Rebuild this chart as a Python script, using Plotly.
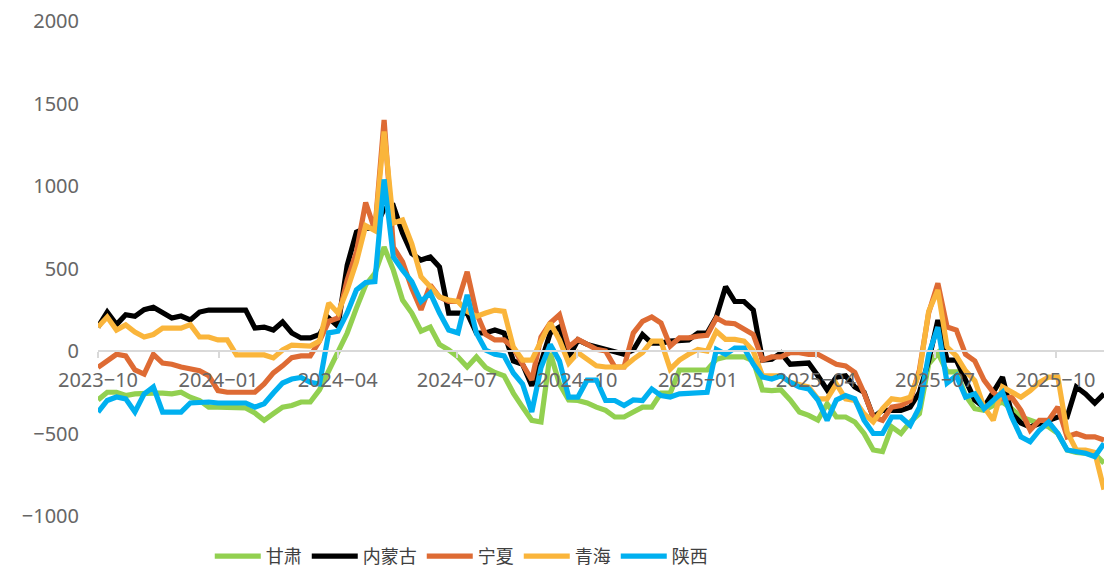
import pandas as pd
import plotly.graph_objects as go

start_date = "2023-10-01"
end_date = "2025-11-07"
n_points = 110

gansu = [-297, -250, -250, -270, -260, -255, -255, -255, -260, -250,
         -280, -300, -340, -340, -340, -340, -345, -376, -420, -380,
         -340, -330, -309, -309, -236, -120, -10, 109, 260, 400,
         470, 630, 490, 309, 230, 120, 145, 40, 6, -36,
         -97, -36, -100, -130, -150, -255, -340, -420, -430, -12,
         -200, -297, -300, -315, -340, -360, -400, -400, -370, -340,
         -340, -255, -255, -115, -115, -115, -115, -50, -36, -36,
         -36, -60, -236, -240, -236, -297, -370, -390, -418, -320,
         -400, -400, -430, -500, -600, -610, -460, -500, -430, -380,
         -80, -12, -127, -127, -270, -350, -360, -330, -310, -350,
         -400, -420, -436, -460, -500, -600, -615, -618, -625, -680]

neimenggu = [145, 236, 160, 220, 210, 250, 265, 230, 200, 212,
             188, 236, 248, 248, 248, 248, 248, 139, 145, 127,
             176, 109, 79, 79, 100, 200, 150, 520, 720, 745,
             745, 860, 880, 715, 590, 551, 570, 509, 230, 230,
             230, 109, 109, 127, 109, -60, -80, -210, -70, 109,
             145, -40, 67, 40, 24, 6, -12, -20, 6, 100,
             48, 48, 60, 67, 67, 109, 109, 206, 390, 300,
             300, 248, -55, -50, -12, -80, -73, -73, -150, -236,
             -158, -150, -218, -250, -400, -360, -360, -360, -340, -250,
             -60, 188, -55, -55, -176, -297, -340, -255, -158, -380,
             -436, -460, -440, -420, -400, -400, -218, -260, -315, -260]

ningxia = [-100, -60, -20, -30, -115, -140, -20, -73, -80, -97,
           -110, -120, -150, -240, -250, -250, -250, -250, -200, -133,
           -90, -40, -30, -30, 60, 180, 200, 430, 600, 900,
           733, 1400, 630, 540, 380, 250, 400, 327, 300, 300,
           480, 230, 100, 67, 67, 20, -80, -176, 85, 170,
           220, 24, 70, 40, 10, 0, -97, -97, 109, 180,
           206, 170, 30, 80, 80, 90, 95, 200, 170, 165,
           130, 100, -55, -36, -36, -10, -10, -20, -20, -50,
           -80, -90, -130, -255, -400, -420, -340, -330, -300, -115,
           230, 410, 145, 127, -20, -60, -176, -250, -290, -280,
           -360, -480, -420, -420, -340, -520, -500, -520, -520, -540]

qinghai = [145, 206, 127, 158, 115, 85, 100, 139, 139, 139,
           160, 85, 85, 67, 67, -24, -24, -24, -24, -42,
           6, 36, 30, 30, 60, 291, 230, 370, 540, 760,
           730, 1330, 776, 794, 650, 450, 390, 327, 309, 300,
           240, 210, 230, 248, 240, 24, -55, -55, 60, 170,
           67, -73, -10, -55, -90, -97, -97, -97, -50, -10,
           60, 60, -110, -55, -20, 10, 0, 120, 70, 70,
           60, 0, -150, -150, -150, -190, -200, -218, -290, -290,
           -200, -290, -300, -380, -430, -350, -290, -297, -280, -133,
           240, 370, 24, -30, -120, -180, -340, -420, -218, -250,
           -280, -240, -190, -158, -158, -490, -600, -600, -615, -840]

shaanxi = [-370, -300, -279, -290, -370, -260, -218, -370, -370, -370,
           -315, -309, -309, -315, -315, -315, -315, -340, -320, -255,
           -194, -170, -160, -190, -200, 110, 120, 230, 370, 415,
           420, 1040, 570, 490, 420, 300, 351, 230, 127, 110,
           340, 109, 6, -20, -30, -133, -200, -370, -100, 40,
           -60, -279, -279, -176, -176, -300, -300, -330, -297, -300,
           -230, -270, -279, -260, -255, -250, -250, 10, -20, 18,
           18, -80, -158, -170, -150, -190, -218, -230, -297, -420,
           -297, -270, -290, -420, -500, -500, -400, -400, -450, -340,
           -20, 145, -194, -150, -279, -260, -350, -300, -250, -400,
           -520, -550, -480, -430, -500, -600, -610, -620, -640, -560]

series_names = ["甘肃", "内蒙古", "宁夏", "青海", "陕西"]
series_values = [gansu, neimenggu, ningxia, qinghai, shaanxi]
series_colors = ["#92D050", "#000000", "#DE6B34", "#FAB53B", "#00B0F0"]

tick_dates = ["2023-10-01", "2024-01-01", "2024-04-01", "2024-07-01", "2024-10-01",
              "2025-01-01", "2025-04-01", "2025-07-01", "2025-10-01"]
tick_labels = ["2023−10", "2024−01", "2024−04", "2024−07", "2024−10",
               "2025−01", "2025−04", "2025−07", "2025−10"]

dates = pd.date_range(start_date, end_date, periods=n_points)

fig = go.Figure()
for name, vals, col in zip(series_names, series_values, series_colors):
    fig.add_trace(go.Scatter(x=dates, y=vals, name=name, mode="lines",
                             line=dict(color=col, width=5.2)))

tick_font = dict(family="Noto Sans, Lato, sans-serif", size=20, color="#666666")

fig.update_layout(
    width=1104, height=569,
    margin=dict(l=98, r=0, t=21, b=53, autoexpand=False),
    paper_bgcolor="white", plot_bgcolor="white",
    showlegend=True,
    legend=dict(orientation="h", xref="container", yref="container",
                x=0.19, xanchor="left", y=0.022, yanchor="middle",
                font=dict(family="Noto Sans CJK SC", size=18, color="#404040"),
                itemwidth=46),
    xaxis=dict(type="date", range=[start_date, end_date],
               tickvals=tick_dates, ticktext=tick_labels,
               anchor="free", position=1/3, automargin=False,
               showline=True, linecolor="#D9D9D9", linewidth=1.5,
               ticks="outside", ticklen=6, tickcolor="#D9D9D9", tickwidth=1.5,
               ticklabelstandoff=5,
               showgrid=False, zeroline=False, tickfont=tick_font),
    yaxis=dict(range=[-1000, 2000], dtick=500, tickmode="linear", tick0=0,
               automargin=False,
               showgrid=False, zeroline=False, showline=False,
               ticklabelstandoff=18, tickfont=tick_font),
)

fig.write_html("out.html", config={"displayModeBar": False},
               post_script="document.body.style.margin='0';")
